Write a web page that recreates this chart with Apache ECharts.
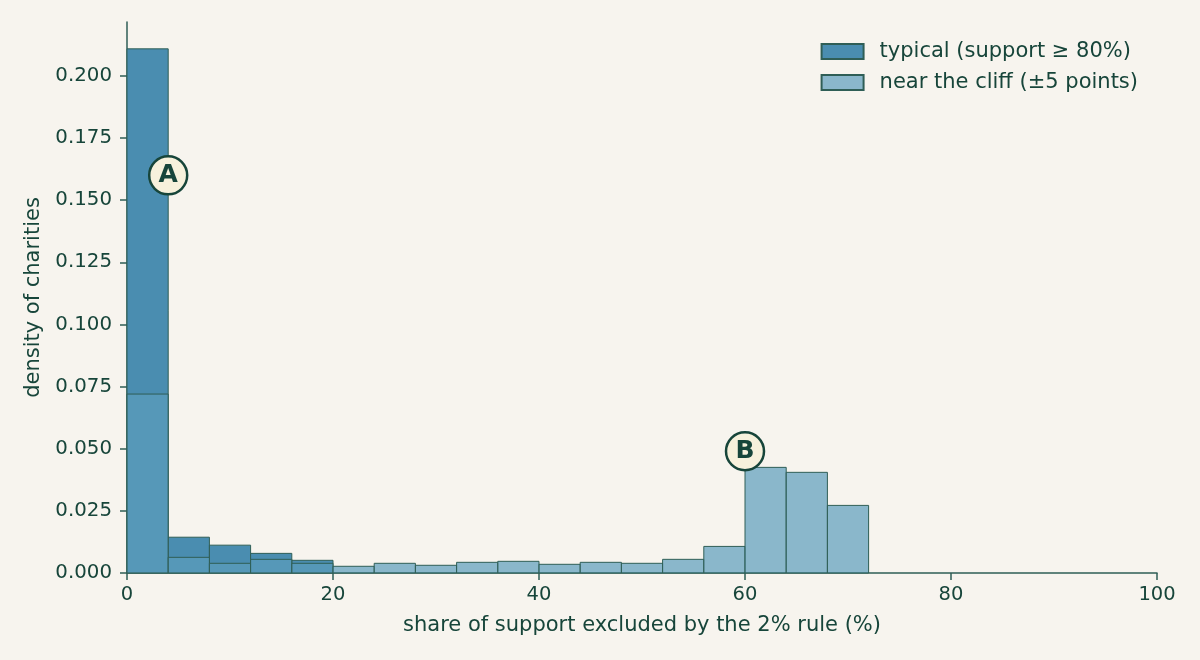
<!DOCTYPE html>
<html><head><meta charset="utf-8">
<script src="https://cdn.jsdelivr.net/npm/echarts@6/dist/echarts.min.js"></script>
<style>html,body{margin:0;padding:0;background:#f7f4ee}#c{width:1200px;height:660px}</style>
</head><body><div id="c"></div>
<script>
var binEdges = [0,4,8,12,16,20,24,28,32,36,40,44,48,52,56,60,64,68,72];
var typical = [0.2109,0.0144,0.0112,0.0079,0.0051,0,0,0,0,0,0,0,0,0,0,0,0,0];
var nearCliff = [0.0720,0.0063,0.0039,0.0055,0.0039,0.0027,0.0039,0.0031,0.0043,0.0047,0.0035,0.0043,0.0039,0.0055,0.0107,0.0425,0.0405,0.0272];
var yTicks = [0,0.025,0.05,0.075,0.1,0.125,0.15,0.175,0.2];
var annotations = [{name:'A', x:4, y:0.16},{name:'B', x:60, y:0.049}];

var TXT = '#17453a', EDGE = '#2f5e56';
function bins(vals){ var out=[]; for (var i=0;i<vals.length;i++){ if (vals[i]>0) out.push([binEdges[i],binEdges[i+1],vals[i]]); } return out; }
function renderBar(params, api){
  var p0 = api.coord([api.value(0), api.value(2)]);
  var p1 = api.coord([api.value(1), 0]);
  return {type:'rect', shape:{x:p0[0], y:p0[1], width:p1[0]-p0[0], height:p1[1]-p0[1]},
    style: api.style()};
}
var chart = echarts.init(document.getElementById('c'));
chart.setOption({
  backgroundColor:'#f7f4ee',
  textStyle:{fontFamily:'DejaVu Sans', color:TXT},
  animation:false,
  grid:{left:127, right:43, top:22, bottom:87},
  legend:{right:57, top:36, orient:'vertical', itemWidth:42, itemHeight:15, itemGap:10,
    textStyle:{fontSize:21, color:TXT, fontFamily:'DejaVu Sans', padding:[0,0,0,11]},
    data:[{name:'typical (support ≥ 80%)', icon:'rect'},{name:'near the cliff (±5 points)', icon:'rect'}]},
  xAxis:{type:'value', min:0, max:100, interval:20,
    name:'share of support excluded by the 2% rule (%)', nameLocation:'middle', nameGap:42,
    nameTextStyle:{fontSize:21, color:TXT},
    axisLine:{lineStyle:{color:EDGE, width:1.5}},
    axisTick:{show:true, length:7, lineStyle:{color:EDGE, width:1.5}},
    axisLabel:{fontSize:19.5, color:TXT, margin:12},
    splitLine:{show:false}},
  yAxis:{type:'value', min:0, max:0.2217,
    name:'density of charities', nameLocation:'middle', nameGap:82,
    nameTextStyle:{fontSize:21, color:TXT},
    axisLine:{show:true, lineStyle:{color:EDGE, width:1.5}},
    axisTick:{show:true, length:7, customValues:yTicks, lineStyle:{color:EDGE, width:1.5}},
    axisLabel:{fontSize:19.8, color:TXT, margin:15, customValues:yTicks, formatter:function(v){return v.toFixed(3);}},
    splitLine:{show:false}},
  series:[
    {type:'custom', name:'typical (support ≥ 80%)', renderItem:renderBar, encode:{x:[0,1], y:2},
      itemStyle:{color:'#4a8db0', borderColor:EDGE, borderWidth:1}, data:bins(typical), z:2},
    {type:'custom', name:'near the cliff (±5 points)', renderItem:renderBar, encode:{x:[0,1], y:2},
      itemStyle:{color:'rgba(91,157,188,0.7)', borderColor:EDGE, borderWidth:1}, data:bins(nearCliff), z:3},
    {type:'scatter', name:'annotations', symbol:'circle', symbolSize:38, z:10,
      itemStyle:{color:'#f7f1dc', borderColor:'#17453a', borderWidth:2.5, opacity:1},
      label:{show:true, position:'inside', formatter:'{b}', fontSize:25, fontWeight:'bold', color:'#17453a', fontFamily:'DejaVu Sans'},
      data:annotations.map(function(a){return {name:a.name, value:[a.x,a.y]};})}
  ]
});
</script></body></html>
